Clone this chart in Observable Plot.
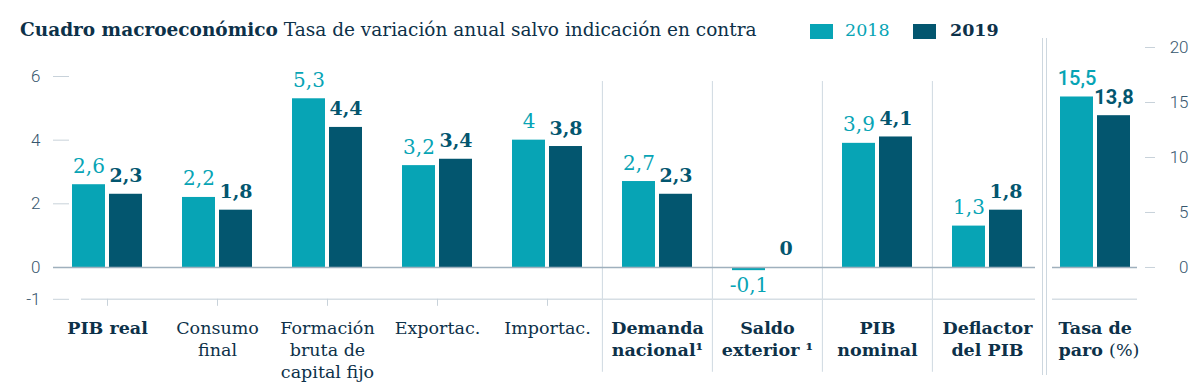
<!DOCTYPE html>
<html><head><meta charset="utf-8">
<script src="https://cdn.jsdelivr.net/npm/d3@7"></script>
<script src="https://cdn.jsdelivr.net/npm/@observablehq/plot@0.6"></script>
<style>
body{margin:0;background:#fff;}
#wrap{position:relative;width:1200px;height:384px;overflow:hidden;font-family:"DejaVu Serif",serif;color:#0d3149;}
#title{position:absolute;left:20px;top:21px;font-size:18.5px;line-height:1;white-space:nowrap;}
.sw{position:absolute;top:24px;width:23px;height:15px;}
.lt{position:absolute;top:22px;font-size:17.5px;line-height:1;}
#left,#right{position:absolute;top:0;}
#left{left:0;}
#right{left:1045px;}
#dbl{position:absolute;left:1042px;top:38px;width:3px;height:337px;border-left:1.5px solid #cdd7df;border-right:1.5px solid #cdd7df;}
</style></head>
<body><div id="wrap">
<div id="title"><b>Cuadro macroeconómico</b> Tasa de variación anual salvo indicación en contra</div>
<div class="sw" style="left:810px;background:#07a4b5"></div><div class="lt" style="left:845px;color:#07a4b5">2018</div>
<div class="sw" style="left:913px;background:#03566f"></div><div class="lt" style="left:950px;font-weight:bold">2019</div>
<div id="left"></div><div id="dbl"></div><div id="right"></div>
</div>
<script>
// ---- data ----
const categories = ["PIB real","Consumo final","Formación bruta de capital fijo","Exportac.","Importac.","Demanda nacional","Saldo exterior","PIB nominal","Deflactor del PIB"];
const categoryLabels = ["PIB real","Consumo\nfinal","Formación\nbruta de\ncapital fijo","Exportac.","Importac.","Demanda\nnacional¹","Saldo\nexterior ¹","PIB\nnominal","Deflactor\ndel PIB"];
const boldCategories = ["PIB real","Demanda nacional","Saldo exterior","PIB nominal","Deflactor del PIB"];
const separatedCategories = ["Demanda nacional","Saldo exterior","PIB nominal","Deflactor del PIB"];
const tickCategories = ["PIB real","Consumo final","Formación bruta de capital fijo","Exportac.","Importac."];
const values2018 = [2.6,2.2,5.3,3.2,4.0,2.7,-0.1,3.9,1.3];
const values2019 = [2.3,1.8,4.4,3.4,3.8,2.3,0,4.1,1.8];
const paroCategory = ["Tasa de paro"];
const paroLabel = ["Tasa de\nparo (%)"];
const paro2018 = [15.5];
const paro2019 = [13.8];
const leftTicks = [-1,0,2,4,6];
const rightTicks = [0,5,10,15,20];

// ---- styles / layout ----
const C18 = "#07a4b5", C19 = "#03566f", NAVY = "#0d3149", AX = "#36566d";
const TICK = "#c8d2da", ZERO = "#9fb0bd", BASE = "#d6dee4", SEP = "#cfd9e1";
const H = 384, plotTop = 76, plotBottom = 298.8, leftMin = -1, leftMax = 6;
const step = 110.25, bandW = 70, barW = 33;
const pad = (step - bandW) / step;
const firstBand = 71;
const r0 = firstBand - step * pad, r1 = r0 + step * (categories.length + pad);
const off = (bandW - barW) / 2; // center offset for labels
const fmt = v => String(v).replace(".", ",");

const rows18 = categories.map((c, i) => ({cat: c, value: values2018[i]}));
const rows19 = categories.map((c, i) => ({cat: c, value: values2019[i]}));
const labRows = categories.map((c, i) => ({cat: c, label: categoryLabels[i]}));
const serif = "DejaVu Serif", sans = "Roboto";

function valueLabels(rows, dx, fill, weight, fontSize, family) {
  return [
    Plot.text(rows.filter(d => d.value >= 0), {x: "cat", y: "value", text: d => fmt(d.value), dx, dy: -12, lineAnchor: "bottom", fill, fontWeight: weight, fontSize, fontFamily: family}),
    Plot.text(rows.filter(d => d.value < 0), {x: "cat", y: "value", text: d => fmt(d.value), dx, dy: 7, lineAnchor: "top", fill, fontWeight: weight, fontSize, fontFamily: family})
  ];
}

const left = Plot.plot({
  width: 1045, height: H,
  marginLeft: 53, marginRight: 10, marginTop: plotTop, marginBottom: H - plotBottom,
  style: {fontFamily: serif, background: "transparent", overflow: "visible"},
  x: {type: "band", domain: categories, range: [r0, r1], paddingInner: pad, paddingOuter: pad},
  y: {domain: [leftMin, leftMax]},
  marks: [
    Plot.ruleX(separatedCategories, {x: d => d, dx: -step / 2, insetTop: 5, insetBottom: -73, stroke: SEP}),
    Plot.ruleY([leftMin], {stroke: BASE, strokeWidth: 1.5, insetLeft: 28}),
    Plot.axisY({ticks: leftTicks, tickFormat: d => String(d), dx: 16, tickSize: 16, tickPadding: 13, stroke: TICK, fill: AX, fontFamily: sans, fontWeight: 300, fontSize: 17, label: null}),
    Plot.axisX({ticks: tickCategories, tickSize: 7, tickFormat: () => "", stroke: TICK, label: null}),
    Plot.barY(rows18, {x: "cat", y: "value", fill: C18, insetRight: bandW - barW}),
    Plot.barY(rows19, {x: "cat", y: "value", fill: C19, insetLeft: bandW - barW}),
    Plot.ruleY([0], {stroke: ZERO, strokeWidth: 1.5}),
    ...valueLabels(rows18, -off, C18, 500, 20, serif),
    ...valueLabels(rows19, off, C19, "bold", 19, serif),
    Plot.text(labRows.filter(d => boldCategories.includes(d.cat)), {x: "cat", text: "label", frameAnchor: "bottom", dy: 19, lineAnchor: "top", lineHeight: 1.25, fill: NAVY, fontWeight: "bold", fontSize: 17.5, fontFamily: serif}),
    Plot.text(labRows.filter(d => !boldCategories.includes(d.cat)), {x: "cat", text: "label", frameAnchor: "bottom", dy: 19, lineAnchor: "top", lineHeight: 1.25, fill: NAVY, fontWeight: "normal", fontSize: 17.5, fontFamily: serif})
  ]
});
document.getElementById("left").appendChild(left);

// right panel: share the pixel position of zero and of the base line
const yZero = plotBottom - (0 - leftMin) / (leftMax - leftMin) * (plotBottom - plotTop);
const rightTop = 47, rightMax = 20;
const rightPx = (yZero - rightTop) / rightMax;
const rMin = -(plotBottom - yZero) / rightPx;
const pr18 = paroCategory.map((c, i) => ({cat: c, value: paro2018[i]}));
const pr19 = paroCategory.map((c, i) => ({cat: c, value: paro2019[i]}));

const right = Plot.plot({
  width: 155, height: H,
  marginLeft: 7, marginRight: 63, marginTop: rightTop, marginBottom: H - plotBottom,
  style: {fontFamily: serif, background: "transparent", overflow: "visible"},
  x: {type: "band", domain: paroCategory, range: [15, 85], padding: 0, axis: null},
  y: {domain: [rMin, rightMax]},
  marks: [
    Plot.ruleY([rMin], {stroke: BASE, strokeWidth: 1.5}),
    Plot.axisY({anchor: "right", ticks: rightTicks, tickFormat: d => String(d), dx: 7, tickSize: 10, tickPadding: 34, textAnchor: "end", stroke: TICK, fill: AX, fontFamily: sans, fontWeight: 300, fontSize: 17, label: null}),
    Plot.barY(pr18, {x: "cat", y: "value", fill: C18, insetRight: bandW - barW}),
    Plot.barY(pr19, {x: "cat", y: "value", fill: C19, insetLeft: bandW - barW}),
    Plot.ruleY([0], {stroke: ZERO, strokeWidth: 1.5}),
    ...valueLabels(pr18, -off, C18, 500, 20, sans),
    ...valueLabels(pr19, off, C19, "bold", 20, sans),
    Plot.text(paroLabel, {text: d => d, frameAnchor: "bottom-left", dx: 6, dy: 19, lineAnchor: "top", textAnchor: "start", lineHeight: 1.25, fill: NAVY, fontWeight: "bold", fontSize: 17.5, fontFamily: serif})
  ]
});
document.getElementById("right").appendChild(right);
// lighter weight for "(%)"
right.querySelectorAll("tspan").forEach(t => {
  if (t.textContent === "paro (%)") {
    t.textContent = "paro ";
    const s = document.createElementNS("http://www.w3.org/2000/svg", "tspan");
    s.setAttribute("font-weight", "normal");
    s.textContent = "(%)";
    t.appendChild(s);
  }
});
</script>
</body></html>
